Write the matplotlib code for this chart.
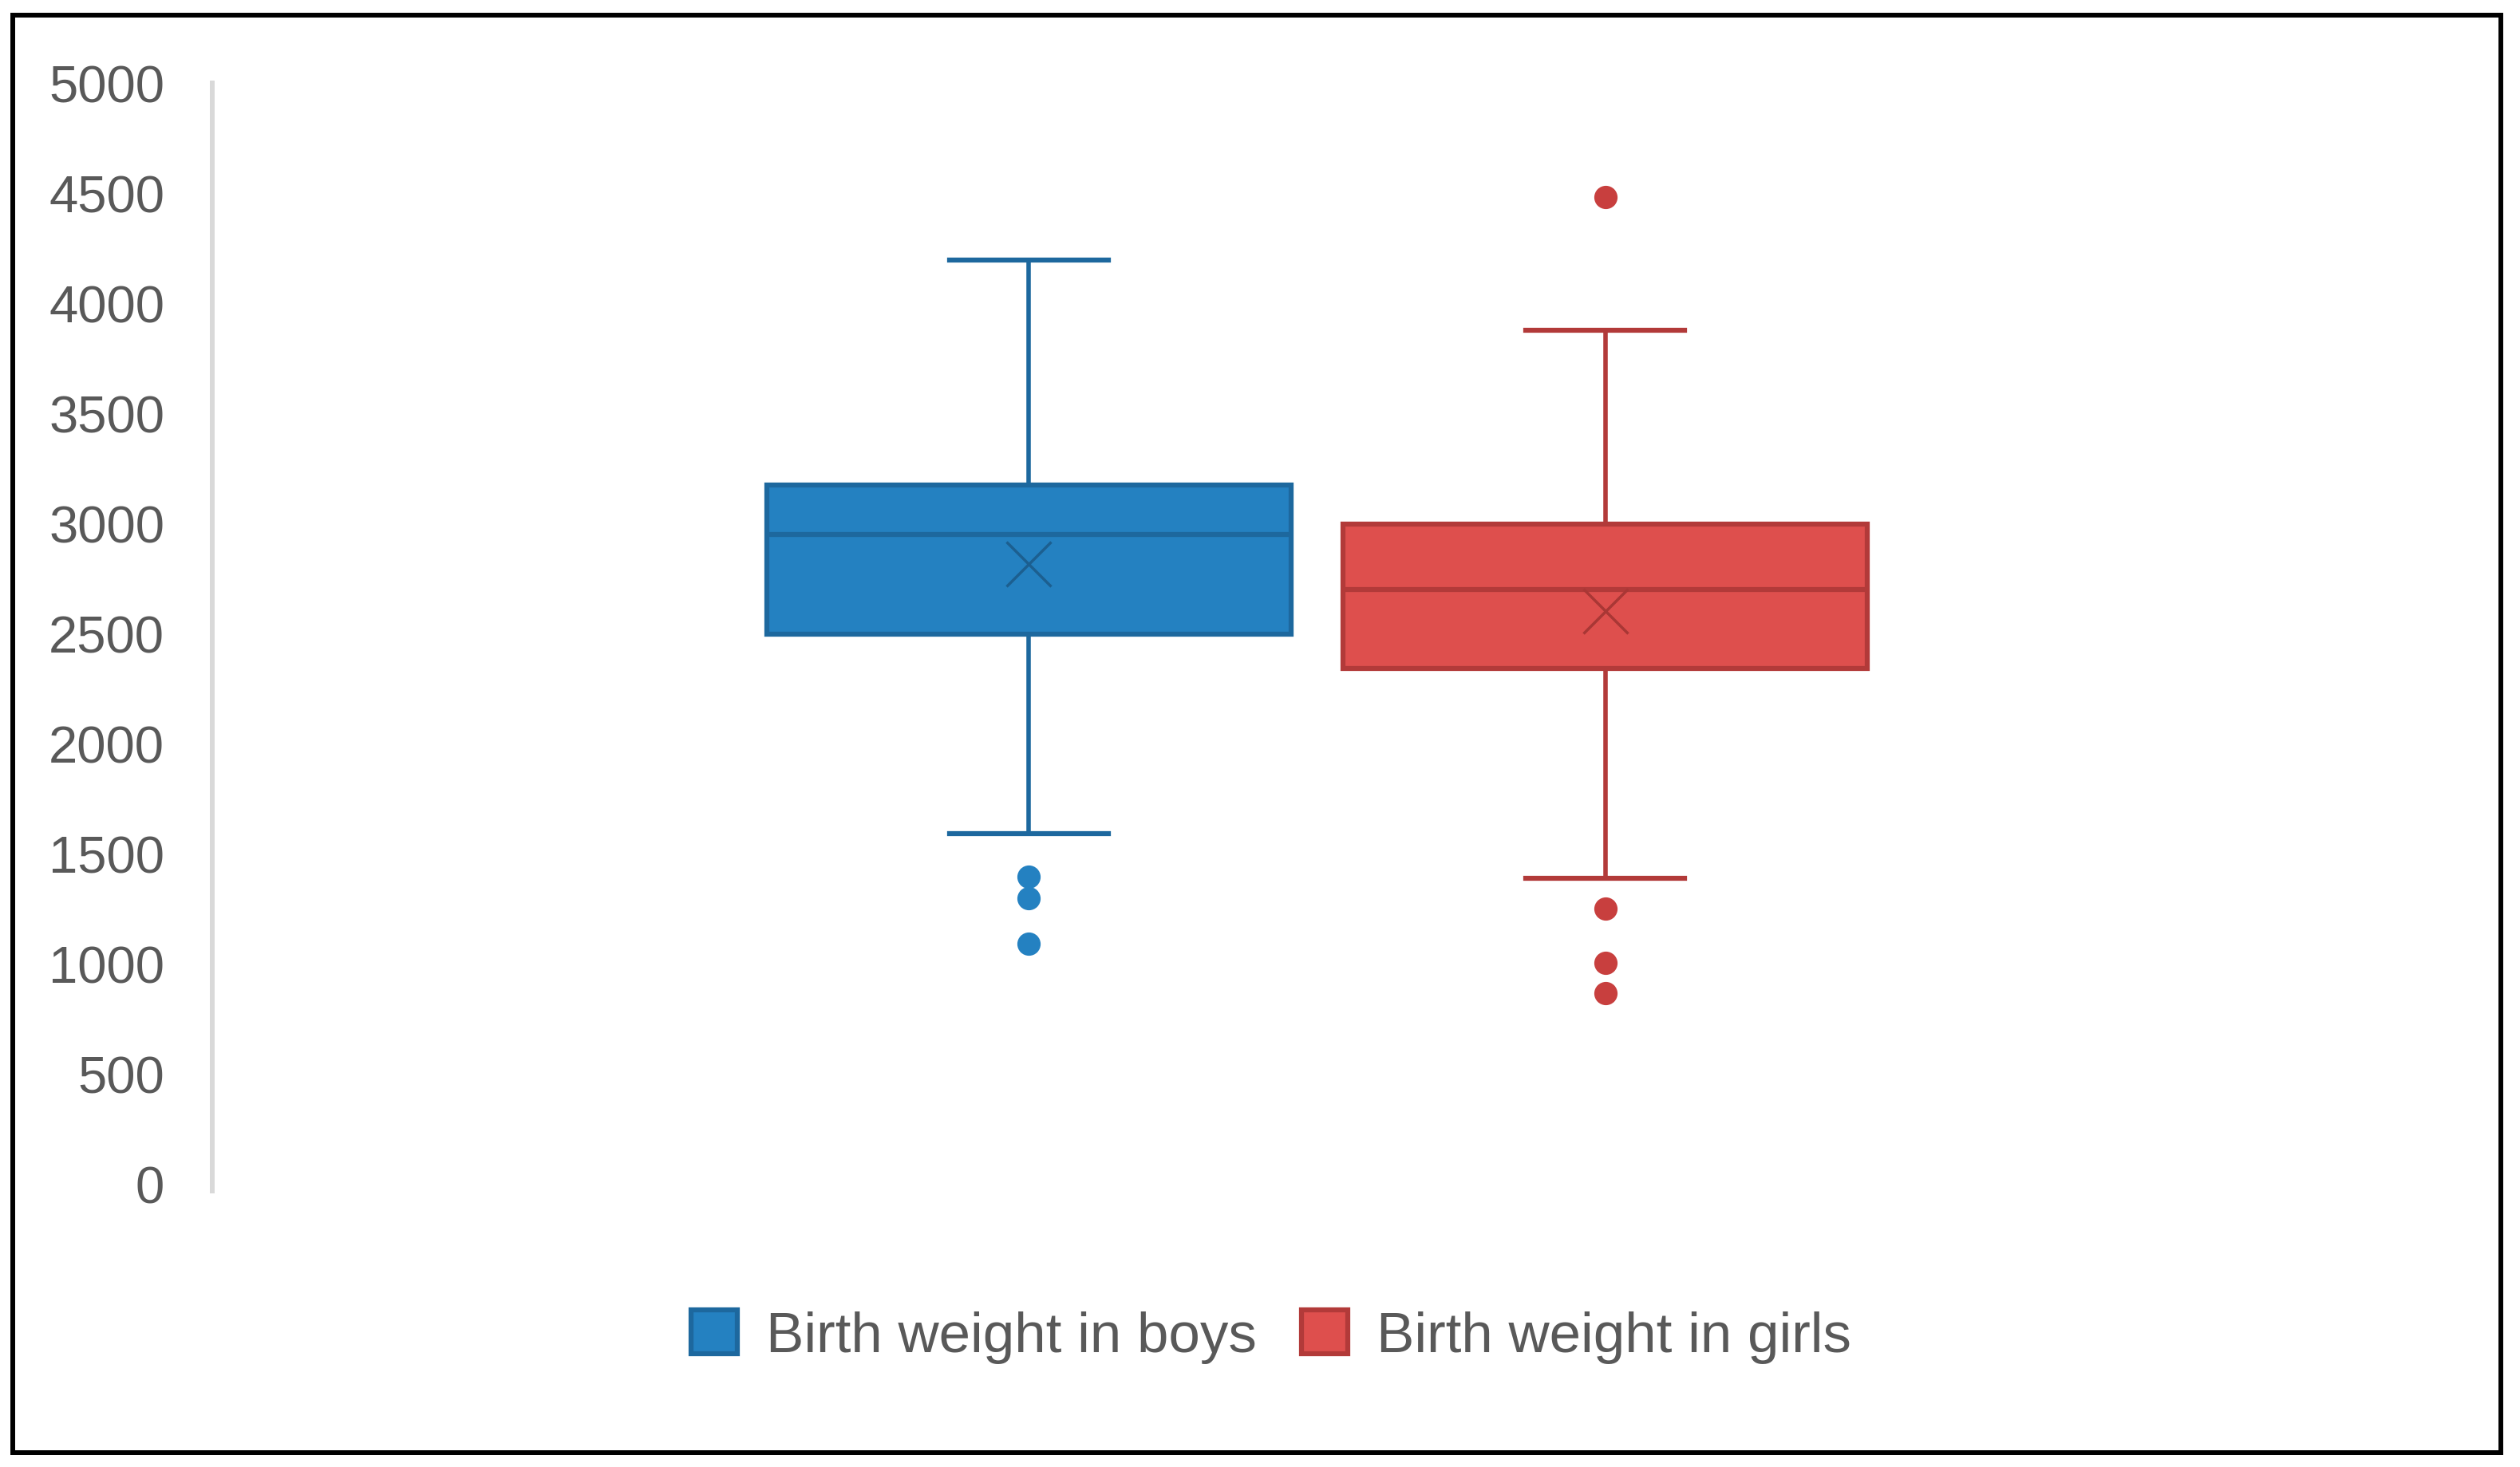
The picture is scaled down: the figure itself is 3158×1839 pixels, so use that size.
import matplotlib
matplotlib.use("Agg")
import matplotlib.pyplot as plt
from matplotlib.patches import Rectangle, Patch

# ---- data ----
series = ["Birth weight in boys", "Birth weight in girls"]
whisker_low = [1590, 1385]
q1 = [2495, 2338]
median = [2948, 2697]
q3 = [3174, 2995]
whisker_high = [4195, 3877]
means = [2815, 2600]
outliers_boys = [1395, 1295, 1090]
outliers_girls = [4480, 1250, 1003, 866]
y_ticks = [0, 500, 1000, 1500, 2000, 2500, 3000, 3500, 4000, 4500, 5000]

fills = ["#2481C1", "#DE4F4D"]
edges = ["#1D689E", "#B23A39"]
mean_cols = ["#1C5F90", "#A93735"]
flier_cols = ["#2481C1", "#C83F3E"]

plt.rcParams['font.family'] = ['Liberation Sans', 'DejaVu Sans']

fig = plt.figure(figsize=(31.58, 18.40), dpi=100)
ax = fig.add_axes([0.0842, 0.1932, 0.876, 0.7499])

fliers = [outliers_boys, outliers_girls]
positions = [0.37, 0.631]
box_w = 0.2374
cap_w = 0.072

for i in range(2):
    st = dict(label=series[i], whislo=whisker_low[i], q1=q1[i], med=median[i],
              q3=q3[i], whishi=whisker_high[i], mean=means[i], fliers=fliers[i])
    ax.bxp([st], positions=[positions[i]], widths=box_w, capwidths=cap_w,
           patch_artist=True, showmeans=True, manage_ticks=False,
           boxprops=dict(facecolor=fills[i], edgecolor=edges[i], linewidth=4.5),
           medianprops=dict(color=edges[i], linewidth=4.5),
           whiskerprops=dict(color=edges[i], linewidth=4),
           capprops=dict(color=edges[i], linewidth=4.5),
           flierprops=dict(marker='o', markersize=20, markerfacecolor=flier_cols[i],
                           markeredgecolor=flier_cols[i]),
           meanprops=dict(marker='x', markersize=41, markeredgecolor=mean_cols[i],
                          markeredgewidth=2.5))

ax.set_xlim(0, 1)
ax.set_ylim(0, 5000)
ax.set_yticks(y_ticks)
ax.set_yticklabels([str(v) for v in y_ticks])
ax.tick_params(axis='y', length=0, pad=43, labelsize=47, labelcolor="#595959")
ax.set_xticks([])
for s in ["top", "right", "bottom"]:
    ax.spines[s].set_visible(False)
ax.spines["left"].set_color("#D9D9D9")
ax.spines["left"].set_linewidth(4.3)
ax.spines["left"].set_bounds(-35, 5000)
ax.patch.set_visible(False)

handles = [Patch(facecolor=fills[i], edgecolor=edges[i], linewidth=4.5) for i in range(2)]
fig.legend(handles, series, loc="center", bbox_to_anchor=(0.5045, 0.0888), ncol=2,
           frameon=False, fontsize=51, labelcolor="#595959",
           handlelength=0.82, handleheight=0.82, handletextpad=0.51, columnspacing=0.79)

fig.patches.append(Rectangle((0.0051, 0.0098), 0.9873, 0.9793, transform=fig.transFigure,
                             fill=False, edgecolor="black", linewidth=4.3, zorder=10))

fig.savefig("out.png", dpi=100, facecolor="white")
